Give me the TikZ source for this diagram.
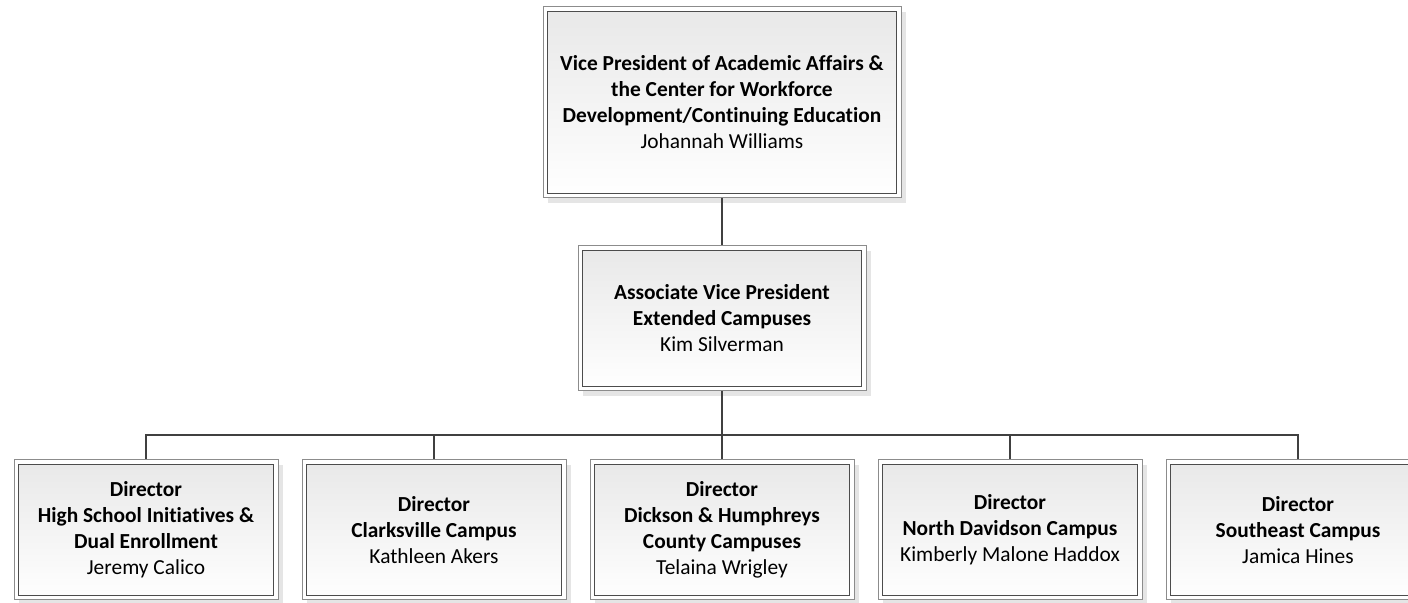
\documentclass[tikz,border=0pt]{standalone}
\usepackage{fontspec}
\setmainfont{Carlito}[Ligatures=NoCommon]
\usetikzlibrary{shadows}

\newcommand{\orgfont}{\fontsize{10.7}{13}\selectfont}

\tikzset{
  orgbox/.style={
    draw=black!45, line width=0.5pt, fill=white,
    align=center, font=\orgfont, inner sep=0pt,
    drop shadow={shadow xshift=2.5pt, shadow yshift=-2.5pt, fill=black!10, opacity=1},
    path picture={
      \shade[top color=black!9, bottom color=white, draw=black!70, line width=0.7pt]
        ([shift={(2.25pt,-2.25pt)}]path picture bounding box.north west) rectangle
        ([shift={(-2.25pt,2.25pt)}]path picture bounding box.south east);
    }
  },
  topbox/.style={orgbox, minimum width=179pt, minimum height=95.5pt},
  midbox/.style={orgbox, minimum width=144pt, minimum height=72.5pt},
  dirbox/.style={orgbox, minimum width=132pt, minimum height=70pt},
  link/.style={draw=black!75, line width=1.25pt}
}

\begin{document}
\begin{tikzpicture}[x=0.5pt,y=0.5pt]

    % frame of the page
    \useasboundingbox (0,0) rectangle (1408,603);
    \clip (0,0) rectangle (1408,603);

    % =========================
    % Top: vice president
    % =========================
    \node[topbox] (vp) at (722,500.5) {
      \textbf{Vice President of Academic Affairs \&}\\
      \textbf{the Center for Workforce}\\
      \textbf{Development/Continuing Education}\\
      Johannah Williams};

    % =========================
    % Middle: associate vice president
    % =========================
    \node[midbox] (avp) at (722,284.5) {
      \textbf{Associate Vice President}\\
      \textbf{Extended Campuses}\\
      Kim Silverman};

    % =========================
    % Bottom: directors
    % =========================
    \node[dirbox] (d1) at (146,73) {
      \textbf{Director}\\
      \textbf{High School Initiatives \&}\\
      \textbf{Dual Enrollment}\\
      Jeremy Calico};
    \node[dirbox] (d2) at (434,73) {
      \textbf{Director}\\
      \textbf{Clarksville Campus}\\
      Kathleen Akers};
    \node[dirbox] (d3) at (722,73) {
      \textbf{Director}\\
      \textbf{Dickson \& Humphreys}\\
      \textbf{County Campuses}\\
      Telaina Wrigley};
    \node[dirbox] (d4) at (1010,73) {
      \textbf{Director}\\
      \textbf{North Davidson Campus}\\
      Kimberly Malone Haddox};
    \node[dirbox] (d5) at (1298,73) {
      \textbf{Director}\\
      \textbf{Southeast Campus}\\
      Jamica Hines};

    % connectors
    \coordinate (bar) at (722,168);
    \draw[link] (vp.south) -- (avp.north);
    \draw[link] (avp.south) -- (bar);
    \foreach \d in {d1,d2,d3,d4,d5}
      \draw[link] (bar) -| (\d.north);

\end{tikzpicture}
\end{document}
